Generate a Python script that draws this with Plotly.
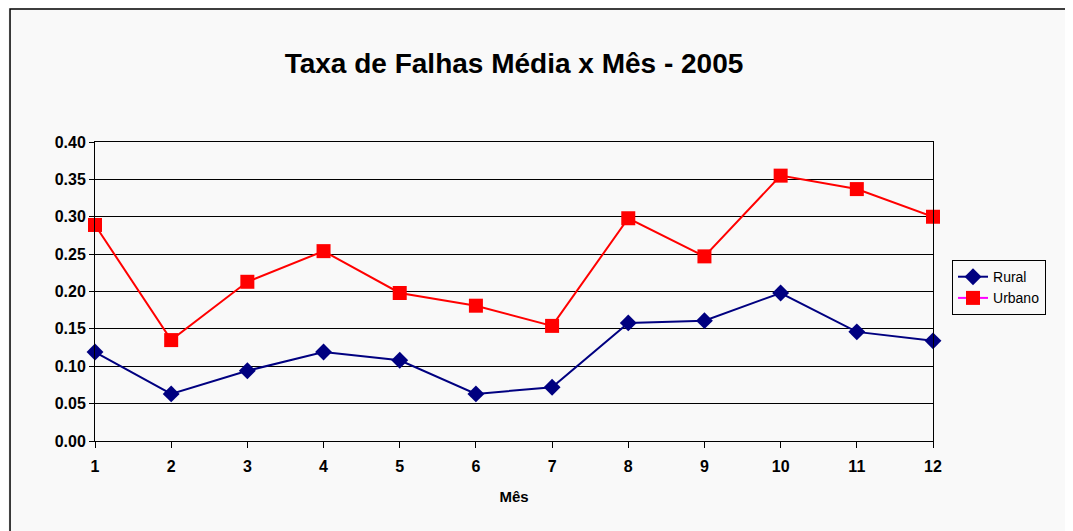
import plotly.graph_objects as go

months = [1, 2, 3, 4, 5, 6, 7, 8, 9, 10, 11, 12]
rural = [0.119, 0.063, 0.094, 0.119, 0.108, 0.063, 0.072, 0.158, 0.161, 0.198, 0.146, 0.134]
urbano = [0.289, 0.135, 0.213, 0.254, 0.198, 0.181, 0.154, 0.298, 0.247, 0.355, 0.337, 0.300]
y_ticks = [0.0, 0.05, 0.10, 0.15, 0.20, 0.25, 0.30, 0.35, 0.40]

FONT = "Liberation Sans, Arial, sans-serif"
BG = "#f9f9f9"

fig = go.Figure()
fig.add_trace(go.Scatter(
    x=months, y=rural, name="Rural", mode="lines+markers",
    line=dict(color="#000080", width=2),
    marker=dict(symbol="diamond", size=13, color="#000080"),
    cliponaxis=False,
))
fig.add_trace(go.Scatter(
    x=months, y=urbano, name="Urbano", mode="lines+markers",
    line=dict(color="#ff0000", width=2),
    marker=dict(symbol="square", size=14, color="#ff0000"),
    cliponaxis=False, showlegend=False,
))
fig.add_trace(go.Scatter(
    x=[None], y=[None], name="Urbano", mode="lines+markers",
    line=dict(color="#ff00ff", width=2),
    marker=dict(symbol="square", size=14, color="#ff0000"),
))

fig.update_layout(
    width=1073, height=531,
    margin=dict(l=87, r=148, t=134, b=98),
    paper_bgcolor=BG, plot_bgcolor=BG,
    font=dict(family=FONT, color="black"),
    title=dict(
        text="<b>Taxa de Falhas Média x Mês - 2005</b>",
        x=0.5, xref="paper", y=1 - 55 / 531, yref="container", yanchor="middle",
        font=dict(size=28, family=FONT, color="black"),
    ),
    showlegend=True,
    legend=dict(
        x=1.0227, y=0.605, xanchor="left", yanchor="top",
        bordercolor="black", borderwidth=1, bgcolor=BG,
        font=dict(size=14, family=FONT), tracegroupgap=0,
        itemwidth=30,
    ),
    xaxis=dict(
        range=[1, 12], tickvals=months, ticktext=[f"<b>{m}</b>" for m in months],
        showgrid=False, zeroline=False, showline=True, linecolor="black", linewidth=1,
        ticks="outside", ticklen=6, tickcolor="black",
        tickfont=dict(size=16, family=FONT), ticklabelstandoff=5,
        title=dict(text="<b>Mês</b>", font=dict(size=15, family=FONT), standoff=17),
        mirror=True,
    ),
    yaxis=dict(
        range=[0, 0.4], tickvals=y_ticks,
        ticktext=[f"<b>{v:.2f}</b>" for v in y_ticks],
        showgrid=True, gridcolor="black", gridwidth=1,
        zeroline=False, showline=True, linecolor="black", linewidth=1,
        ticks="outside", ticklen=5, tickcolor="black",
        tickfont=dict(size=16, family=FONT),
        mirror=True,
    ),
    shapes=[dict(
        type="rect", xref="paper", yref="paper",
        x0=-0.1014, x1=1.2, y0=-0.4, y1=1.4448,
        line=dict(color="black", width=1.5), fillcolor="rgba(0,0,0,0)",
        layer="below",
    )],
)

fig.write_html("out.html")
